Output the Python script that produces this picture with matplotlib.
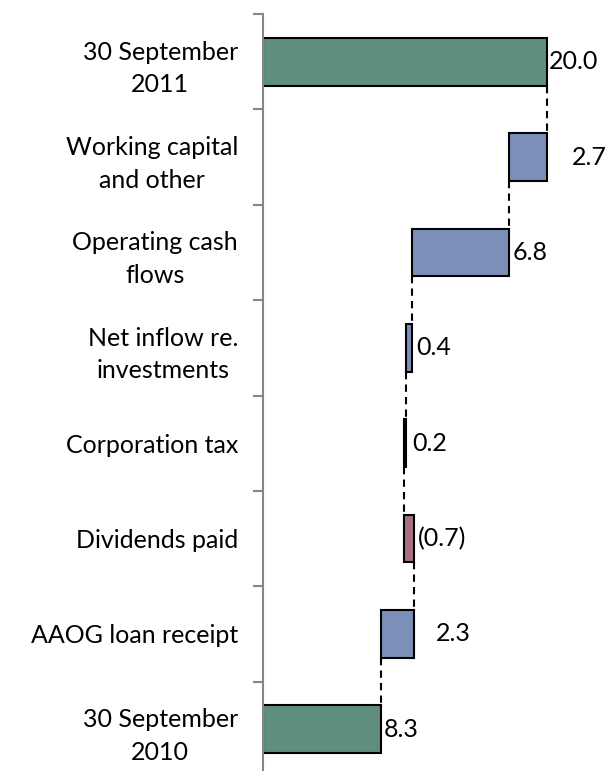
import numpy as np
import matplotlib.pyplot as plt

# waterfall steps, top to bottom
categories = ['30 September\n2011', 'Working capital\nand other', 'Operating cash\nflows',
              'Net inflow re.\ninvestments', 'Corporation tax', 'Dividends paid',
              'AAOG loan receipt', '30 September\n2010']
values = [20.0, 2.7, 6.8, 0.4, 0.2, -0.7, 2.3, 8.3]
is_total = [True, False, False, False, False, False, False, True]
value_labels = ['20.0', '2.7', '6.8', '0.4', '0.2', '(0.7)', '2.3', '8.3']

green = '#5f8f7c'
blue = '#7b8fb8'
red = '#a86f80'
label_pad = [2, 25, 4, 4, 6, 4, 22, 3]  # px offset of value labels

plt.rcParams['font.family'] = ['Lato', 'DejaVu Sans']

# work out bar start/end from the bottom up
n = len(values)
starts = np.zeros(n)
ends = np.zeros(n)
running = 0.0
for i in range(n - 1, -1, -1):
    if is_total[i]:
        starts[i], ends[i] = 0, values[i]
        running = values[i]
    else:
        starts[i], ends[i] = running, running + values[i]
        running += values[i]

ypos = np.arange(n)  # 0 at top
fig = plt.figure(figsize=(6.07, 7.71), dpi=100)
ax = fig.add_axes([263 / 607, -6 / 771, 340 / 607, 763 / 771])

colors = []
for i in range(n):
    if is_total[i]:
        colors.append(green)
    elif values[i] < 0:
        colors.append(red)
    else:
        colors.append(blue)

lefts = np.minimum(starts, ends)
widths = np.abs(ends - starts)
ax.barh(ypos, widths, left=lefts, height=0.5, color=colors, edgecolor='black', linewidth=1.5)

# dashed connectors between neighbouring bars
for i in range(n - 1):
    x = ends[i] if is_total[i] else starts[i]
    ax.plot([x, x], [ypos[i] + 0.25, ypos[i + 1] - 0.25], color='black',
            linestyle=(0, (3.5, 2.5)), linewidth=1.5)

for i in range(n):
    right = max(starts[i], ends[i])
    ax.annotate(value_labels[i], (right, ypos[i]), xytext=(label_pad[i], 0),
                textcoords='offset pixels', va='center', ha='left', fontsize=18)

ax.set_ylim(n - 0.5, -0.5)
ax.set_xlim(0, 340 / 14.2)
ax.set_yticks(ypos)
ax.set_yticklabels(categories, fontsize=18, multialignment='center', linespacing=1.5)
ax.tick_params(axis='y', which='major', length=0, pad=18)
ax.set_yticks(np.arange(-0.5, n, 1), minor=True)
ax.tick_params(axis='y', which='minor', length=7, color='#888888', width=1.5)
ax.set_xticks([])
for s in ['top', 'right', 'bottom']:
    ax.spines[s].set_visible(False)
ax.spines['left'].set_color('#888888')
ax.spines['left'].set_linewidth(1.5)

fig.savefig('out.png', dpi=100)
